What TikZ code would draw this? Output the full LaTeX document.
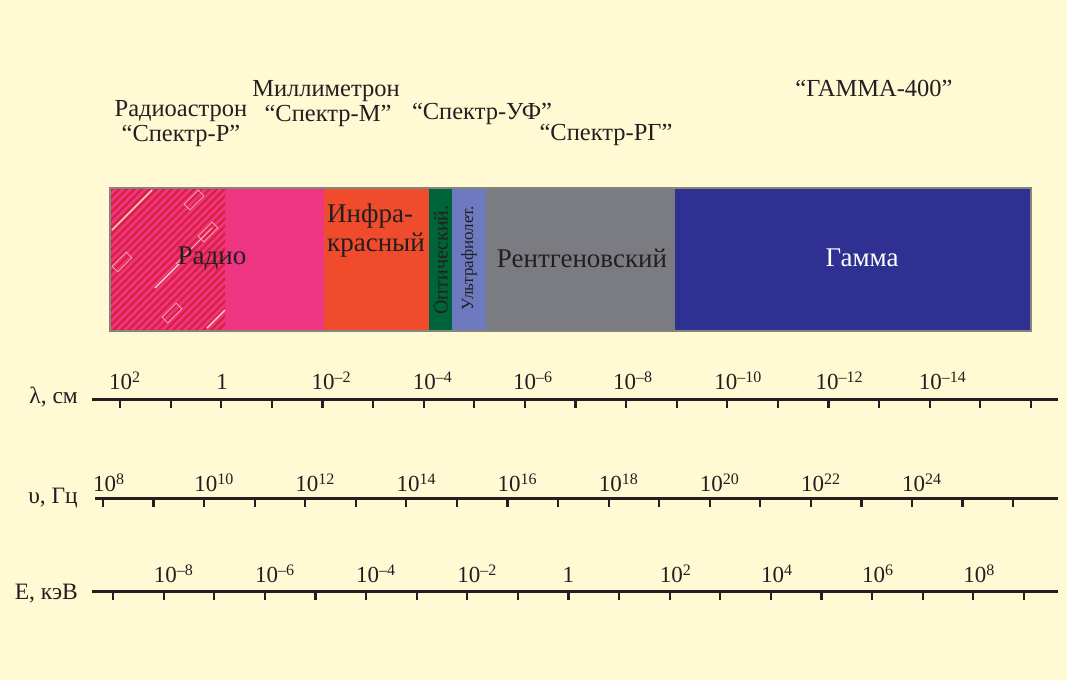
\documentclass[tikz,border=0pt]{standalone}
\usepackage{fontspec}
\setmainfont{Liberation Serif}
\definecolor{bg}{HTML}{FFFAD4}
\definecolor{txt}{HTML}{231F20}
\definecolor{radpink}{HTML}{EE3581}
\definecolor{radstripe}{HTML}{DA1F3F}
\definecolor{irc}{HTML}{EF4B2C}
\definecolor{optc}{HTML}{00643A}
\definecolor{uvc}{HTML}{6D7ABF}
\definecolor{xrc}{HTML}{7B7C81}
\definecolor{gamc}{HTML}{2E3192}
\definecolor{brd}{HTML}{858679}
\definecolor{cream}{HTML}{FBE3C8}
\newcommand{\ex}[1]{\raisebox{6.5pt}{\fontsize{16}{16}\selectfont#1}}
\tikzset{
  bandlbl/.style={inner sep=0pt,text=txt,font=\fontsize{27}{29}\selectfont},
  toplbl/.style={inner sep=0pt,text=txt,align=center,font=\fontsize{24.5}{25}\selectfont},
  num/.style={inner sep=0pt,text=txt,anchor=base west,font=\fontsize{23}{23}\selectfont},
  numone/.style={inner sep=0pt,text=txt,anchor=base,font=\fontsize{23}{23}\selectfont},
  axname/.style={inner sep=0pt,text=txt,anchor=base east,font=\fontsize{23.5}{23}\selectfont},
  axline/.style={line width=3pt,draw=txt},
  tickmark/.style={line width=2.2pt,draw=txt},
}
\begin{document}
\begin{tikzpicture}[x=1pt,y=-1pt]
\fill[bg] (0,0) rectangle (1067,680);
\useasboundingbox (0,0) rectangle (1067,680);
% bands
\fill[radpink] (110,188) rectangle (324,331);
\begin{scope}
  \clip (110,188) rectangle (225,331);
  \foreach \k in {-150,-142.5,...,230} \draw[radstripe,line width=2.3pt] (\k,331) -- ++(143,-143);
  \draw[cream,line width=1.4pt] (112,230) -- (152,190);
  \draw[cream,line width=1.2pt] (155,288) -- (180,263);
  \draw[cream,line width=1.4pt] (207,328) -- (225,310);
  \draw[cream!70!radpink,line width=0.8pt] (176,264) -- (212,228);
  \foreach \cx/\cy in {194/200, 208/232, 122/262, 172/313}
    \draw[cream!70!radpink,line width=0.6pt,rotate around={45:(\cx,\cy)}] (\cx-10,\cy-4) rectangle (\cx+10,\cy+4);
\end{scope}
\fill[irc] (324,188) rectangle (429,331);
\fill[optc] (429,188) rectangle (452,331);
\fill[uvc] (452,188) rectangle (486,331);
\fill[xrc] (486,188) rectangle (675,331);
\fill[gamc] (675,188) rectangle (1031,331);
\draw[brd,line width=2pt] (110,188) rectangle (1031,331);
\node[bandlbl] (radio) at (212,258) {Радио};
\node[bandlbl,align=left,anchor=base west] (ir) at (327,251) {Инфра-\\красный};
\node[inner sep=0pt,text=txt,rotate=90,font=\fontsize{20}{20}\selectfont] (opt) at (441,260) {Оптический.};
\node[inner sep=0pt,text=txt,rotate=90,font=\fontsize{17}{17}\selectfont] (uv) at (469,258) {Ультрафиолет.};
\node[bandlbl] (xray) at (582,258) {Рентгеновский};
\node[bandlbl,text=white] (gamma) at (862,258) {Гамма};
% missions
\node[toplbl] (ra) at (181,124) {Радиоастрон\\“Спектр-Р”};
\node[toplbl] (mm) at (326,104) {Миллиметрон\\\,“Спектр-М”};
\node[toplbl] (uf) at (482,114) {“Спектр-УФ”};
\node[toplbl] (rg) at (606,135) {“Спектр-РГ”};
\node[toplbl] (g400) at (874,88) {“ГАММА-400”};
% wavelength axis
\node[axname] (lam) at (78,403) {λ, см};
\coordinate (l0) at (92,399); \coordinate (l1) at (1058,399);
\draw[axline] (l0) -- (l1);
\foreach \i in {0,...,18} \draw[tickmark] ({120+\i*50.6},399) -- ++(0,9);
\node[num] (lt0) at (109,389) {10\ex{2}};
\node[numone] (lt1) at (222,389) {1};
\node[num] (lt2) at ({120+4*50.6-11},389) {10\ex{–2}};
\node[num] (lt3) at ({120+6*50.6-11},389) {10\ex{–4}};
\node[num] (lt4) at ({120+8*50.6-12},389) {10\ex{–6}};
\node[num] (lt5) at ({120+10*50.6-13},389) {10\ex{–8}};
\node[num] (lt6) at ({120+12*50.6-13},389) {10\ex{–10}};
\node[num] (lt7) at ({120+14*50.6-13},389) {10\ex{–12}};
\node[num] (lt8) at ({120+16*50.6-11},389) {10\ex{–14}};
% frequency axis
\node[axname] (nu) at (78,503) {υ, Гц};
\coordinate (n0) at (95,498); \coordinate (n1) at (1058,498);
\draw[axline] (n0) -- (n1);
\foreach \i in {0,...,18} \draw[tickmark] ({103+\i*50.56},498) -- ++(0,9);
\foreach \i/\e in {0/8,1/10,2/12,3/14,4/16,5/18,6/20,7/22,8/24}
  \node[num] (nt\i) at ({103+2*\i*50.56-10},491) {10\ex{\e}};
% energy axis
\node[axname] (en) at (78,599) {E, кэВ};
\coordinate (e0) at (92,591); \coordinate (e1) at (1058,591);
\draw[axline] (e0) -- (e1);
\foreach \i in {0,...,18} \draw[tickmark] ({113+\i*50.6},591) -- ++(0,9);
\foreach \i/\e in {0/–8,1/–6,2/–4,3/–2,5/2,6/4,7/6,8/8}
  \node[num] (et\i) at ({113+(2*\i+1)*50.6-10},582) {10\ex{\e}};
\node[numone] (et4) at ({113+9*50.6},582) {1};
\end{tikzpicture}
\end{document}
